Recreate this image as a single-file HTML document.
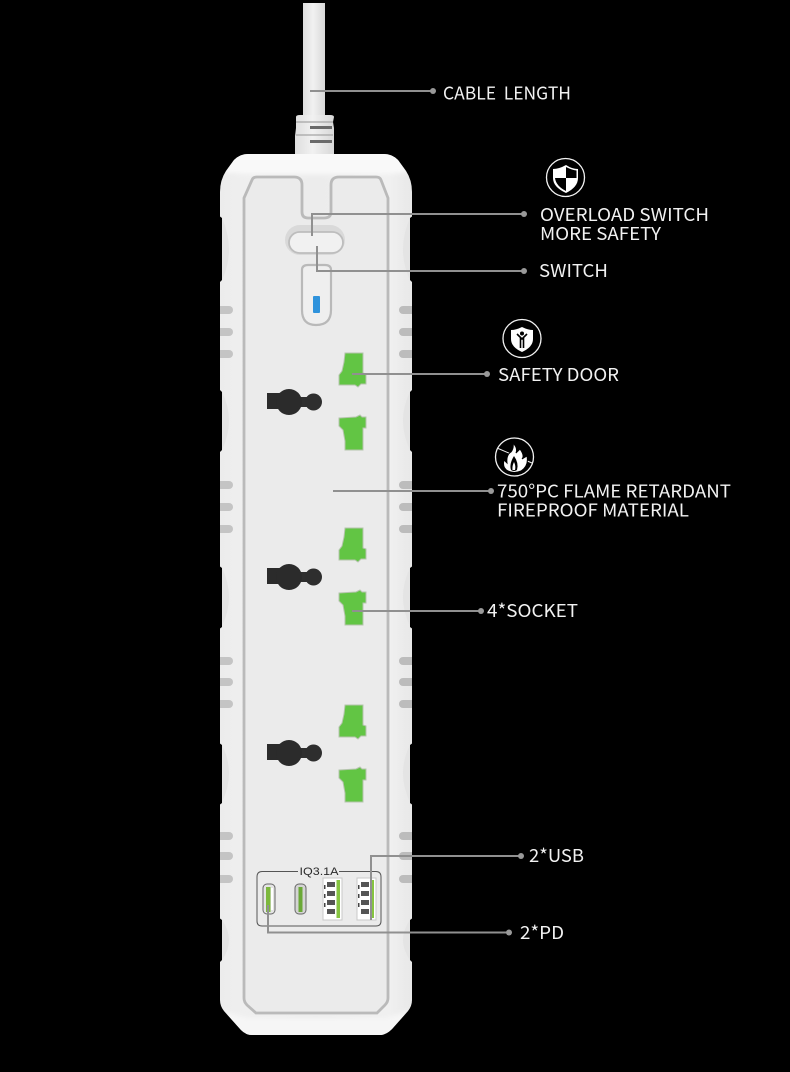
<!DOCTYPE html>
<html><head><meta charset="utf-8"><style>
html,body{margin:0;padding:0;background:#000}
svg{display:block}
text{font-family:"Noto Sans CJK SC","Liberation Sans",sans-serif;fill:#f2f2f2;font-size:18px}
</style></head><body>
<svg width="790" height="1072" viewBox="0 0 790 1072" xmlns="http://www.w3.org/2000/svg">
<defs>
<filter id="b2" x="-10%" y="-30%" width="120%" height="160%"><feGaussianBlur stdDeviation="2.500"/></filter>
<clipPath id="bc"><path d="M248,154 L384,154 Q392,154 398,160 L406,171 Q412,180 412,192 L412,1000 Q412,1006 408,1011 L392,1029 Q386,1035 380,1035 L252,1035 Q246,1035 241,1030 L224,1011 Q220,1006 220,1000 L220,192 Q220,180 226,171 L234,160 Q240,154 248,154Z"/></clipPath>
<linearGradient id="cab" x1="0" x2="1" y1="0" y2="0"><stop offset="0" stop-color="#dedede"/><stop offset=".45" stop-color="#f1f1f1"/><stop offset="1" stop-color="#d8d8d8"/></linearGradient>
<linearGradient id="body" x1="0" x2="1" y1="0" y2="0"><stop offset="0" stop-color="#ececec"/><stop offset=".12" stop-color="#efefef"/><stop offset=".5" stop-color="#ececec"/><stop offset=".88" stop-color="#f0f0f0"/><stop offset="1" stop-color="#e8e8e8"/></linearGradient>
<g id="green"><path d="M345,353 L363,353 L363,373 L366,374 L366,384 L361,384 L358,387 L355,385 L339,385 L339,375 L342,371 L344,362Z M339,418 L356,417 L360,415 L362,417 L366,417 L366,428 L363,428 L363,450 L345,450 L345,441 L343,430 L339,426Z" fill="#62c544" stroke="#b5c4ad" stroke-width="1"/></g>
<g id="pin"><rect x="267" y="393" width="24" height="16" fill="#2b2b2b"/><rect x="296" y="397" width="12" height="10" fill="#2f2f2f"/><circle cx="313.500" cy="402" r="8.500" fill="#2e2e2e"/><circle cx="289" cy="402" r="13" fill="#2b2b2b"/></g>
<g id="nl"><path d="M220,-4 H229 A4,4 0 0 1 229,4 H220Z" fill="#c4c4c4"/></g>
<g id="nr"><path d="M412,-4 H403 A4,4 0 0 0 403,4 H412Z" fill="#bcbcbc"/></g>
</defs>
<rect width="790" height="1072" fill="#000"/>

<!-- cable -->
<rect x="303" y="3" width="22" height="114" fill="url(#cab)"/>
<path d="M296,117 Q296,115 300,115 L330,115 Q334,115 334,117 L333,122 L334,128 L334,154 L295,154 L295,136 L296,128Z" fill="url(#cab)"/>
<path d="M296,122 H333 M296,135 H333" stroke="#a5a5a5" stroke-width="1.200" fill="none"/>
<rect x="310" y="126" width="22" height="3" fill="#6a6a6a"/>
<rect x="310" y="140" width="22" height="3" fill="#6a6a6a"/>

<!-- body -->
<path d="M248,154 L384,154 Q392,154 398,160 L406,171 Q412,180 412,192 L412,1000 Q412,1006 408,1011 L392,1029 Q386,1035 380,1035 L252,1035 Q246,1035 241,1030 L224,1011 Q220,1006 220,1000 L220,192 Q220,180 226,171 L234,160 Q240,154 248,154Z" fill="url(#body)"/>
<g clip-path="url(#bc)">
<path d="M232,150 L400,150 L410,172 L384,174 L250,174 L222,172Z" fill="#f9f9f9" filter="url(#b2)"/>
<path d="M222,1010 L246,1018 L386,1018 L410,1010 L396,1040 L236,1040Z" fill="#f6f6f6" filter="url(#b2)"/>
</g>
<!-- side recesses -->
<g fill="#000">
<path d="M218,215 L222,218 L222,280 L218,284Z M218,388 L222,392 L222,450 L218,454Z M218,565 L222,568 L222,627 L218,630Z M218,742 L222,745 L222,803 L218,806Z M218,917 L222,920 L222,960 L218,964Z"/>
<path d="M414,215 L410,218 L410,280 L414,284Z M414,388 L410,392 L410,450 L414,454Z M414,565 L410,568 L410,627 L414,630Z M414,742 L410,745 L410,803 L414,806Z M414,917 L410,920 L410,960 L414,964Z"/>
</g>
<g fill="#e4e4e4">
<path d="M222,218 Q236,250 222,280Z M222,392 Q236,420 222,450Z M222,568 Q236,597 222,626Z M222,745 Q236,773 222,802Z M222,920 Q236,940 222,960Z"/>
<path d="M410,218 Q396,250 410,280Z M410,392 Q396,420 410,450Z M410,568 Q396,597 410,626Z M410,745 Q396,773 410,802Z M410,920 Q396,940 410,960Z"/>
</g>
<use href="#nl" y="310"/><use href="#nl" y="332"/><use href="#nl" y="354"/>
<use href="#nl" y="485"/><use href="#nl" y="507"/><use href="#nl" y="529"/>
<use href="#nl" y="661"/><use href="#nl" y="682"/><use href="#nl" y="704"/>
<use href="#nl" y="836"/><use href="#nl" y="856"/><use href="#nl" y="879"/>
<use href="#nr" y="310"/><use href="#nr" y="332"/><use href="#nr" y="354"/>
<use href="#nr" y="485"/><use href="#nr" y="507"/><use href="#nr" y="529"/>
<use href="#nr" y="661"/><use href="#nr" y="682"/><use href="#nr" y="704"/>
<use href="#nr" y="836"/><use href="#nr" y="856"/><use href="#nr" y="879"/>

<!-- inner panel -->
<path d="M244,198 L252,180 Q253,177 257,177 L294,177 Q302,177 302,185 L302,212 Q302,218 308,218 L324,218 Q331,218 331,212 L331,185 Q331,177 339,177 L376,177 Q380,177 381,180 L388,198 L388,998 Q388,1002 385,1005 L377,1013 L256,1013 L247,1005 Q244,1002 244,998Z" fill="#ebebeb" stroke="#bababa" stroke-width="2.800"/>

<!-- switch -->
<rect x="285" y="225" width="60" height="30" rx="15" fill="#d9d9d9"/>
<rect x="289" y="232" width="54" height="21" rx="10.500" fill="#f1f1f1" stroke="#bdbdbd" stroke-width="1.800"/>
<path d="M302,270 Q302,265 308,265 L325,265 Q331,265 331,270 L331,310 Q331,325 316,325 Q302,325 302,310Z" fill="#efefef" stroke="#b9b9b9" stroke-width="2.200"/>
<rect x="313" y="296" width="7" height="17" rx="1" fill="#2f93dc"/>

<!-- sockets -->
<use href="#green"/><use href="#green" y="175"/><use href="#green" y="352"/>
<use href="#pin"/><use href="#pin" y="175"/><use href="#pin" y="351"/>

<!-- USB panel -->
<path d="M298,871.500 H262 Q257,871.500 257,877 V921 Q257,926 262,926 H376 Q381,926 381,921 V877 Q381,871.500 376,871.500 H339" fill="none" stroke="#555" stroke-width="1"/>
<text x="299.500" y="875" textLength="39" lengthAdjust="spacingAndGlyphs" style="font-family:'Liberation Sans',sans-serif;font-size:11px;fill:#2a2a2a">IQ3.1A</text>
<g>
<rect x="263" y="884" width="12" height="30" rx="4" fill="#e4e4e4" stroke="#666"/><rect x="266" y="887" width="4.500" height="25" fill="#7cb83c"/><rect x="271" y="888" width="2" height="22" fill="#fff"/>
<rect x="295" y="884" width="11" height="30" rx="4" fill="#d4d4d4" stroke="#666"/><rect x="298.500" y="887" width="4" height="25" fill="#6aa836"/>
<rect x="323" y="878" width="19" height="42" fill="#fff" stroke="#c8c8c8"/><rect x="336.500" y="880" width="3.500" height="38" fill="#86c440"/>
<rect x="357" y="878" width="19" height="42" fill="#fff" stroke="#c8c8c8"/><rect x="370.500" y="880" width="3.500" height="38" fill="#86c440"/>
<g fill="#555"><rect x="327" y="882" width="8" height="5"/><rect x="327" y="891" width="8" height="5"/><rect x="327" y="900" width="8" height="5"/><rect x="327" y="909" width="8" height="5"/><rect x="361" y="882" width="8" height="5"/><rect x="361" y="891" width="8" height="5"/><rect x="361" y="900" width="8" height="5"/><rect x="361" y="909" width="8" height="5"/></g>
<g fill="#444"><rect x="324" y="885" width="1.500" height="4"/><rect x="324" y="894" width="1.500" height="4"/><rect x="324" y="903" width="1.500" height="4"/><rect x="358" y="885" width="1.500" height="4"/><rect x="358" y="894" width="1.500" height="4"/><rect x="358" y="903" width="1.500" height="4"/></g>
</g>

<!-- connectors -->
<g fill="none" stroke="#909090" stroke-width="2">
<path d="M310,91 H433"/>
<path d="M312,236 V214 H524"/>
<path d="M317,246 V271 H524"/>
<path d="M352,374 H487"/>
<path d="M333,491 H491"/>
<path d="M352,611 H481"/>
<path d="M371,920 V856 H521"/>
<path d="M268,905 V932.500 H509"/>
</g>
<g fill="#999">
<circle cx="433" cy="91" r="3"/><circle cx="524" cy="214" r="3"/><circle cx="524" cy="271" r="3"/><circle cx="487" cy="374" r="3"/><circle cx="491" cy="491" r="3"/><circle cx="481" cy="611" r="3"/><circle cx="521" cy="856" r="3"/><circle cx="509" cy="932.500" r="3"/>
</g>

<!-- icons -->
<g fill="none" stroke="#f2f2f2" stroke-width="1.300"><circle cx="565.500" cy="177.500" r="19"/><circle cx="522" cy="338.500" r="19"/><circle cx="514.500" cy="457" r="19"/></g>
<path d="M566,165 Q559,169 553,169 V178 Q553,187 566,193 Q578,187 578,178 V169 Q572,169 566,165Z" fill="#fff"/>
<path d="M566,167 Q572,170 576.500,170.500 V178 H566Z M566,178 H555 Q556,186 566,191Z" fill="#000"/>
<path d="M522,327 Q516,330 511,330 V339 Q511,347 522,352 Q533,347 533,339 V330 Q528,330 522,327Z" fill="#fff"/>
<circle cx="522" cy="333.500" r="2" fill="#000"/><path d="M517,334 L522,339 L527,334 M520.500,348 V338 M523.500,348 V338" stroke="#000" stroke-width="1.600" fill="none"/>
<path d="M497,448 L532,463" stroke="#f2f2f2" stroke-width="1"/>
<path d="M513,443 Q518,448 516,453 L520,449 Q525,456 522,459 L527,456 Q529,466 521,471 Q514,474 508,471 Q502,468 504,460 L507,463 Q506,455 511,452 Q514,448 513,443Z" fill="#fff" stroke="#000" stroke-width="1"/>
<path d="M514,456 Q519,463 517,470 Q514,472 511,470 Q509,464 514,456Z" fill="#000"/>
<path d="M514,462 Q516,466 515,470 H512.500 Q512,466 514,462Z" fill="#fff"/>

<!-- labels -->
<text x="443" y="99.500" textLength="128" lengthAdjust="spacingAndGlyphs">CABLE&#160;&#160;LENGTH</text>
<text x="540" y="221" textLength="169" lengthAdjust="spacingAndGlyphs">OVERLOAD SWITCH</text>
<text x="540" y="240" textLength="121" lengthAdjust="spacingAndGlyphs">MORE SAFETY</text>
<text x="539" y="277" textLength="69" lengthAdjust="spacingAndGlyphs">SWITCH</text>
<text x="498" y="381" textLength="121" lengthAdjust="spacingAndGlyphs">SAFETY DOOR</text>
<text x="497" y="497.500" textLength="234" lengthAdjust="spacingAndGlyphs">750°PC FLAME RETARDANT</text>
<text x="497" y="516.500" textLength="192" lengthAdjust="spacingAndGlyphs">FIREPROOF MATERIAL</text>
<text x="487" y="617" textLength="91" lengthAdjust="spacingAndGlyphs">4*SOCKET</text>
<text x="529" y="862" textLength="55" lengthAdjust="spacingAndGlyphs">2*USB</text>
<text x="520" y="939" textLength="44" lengthAdjust="spacingAndGlyphs">2*PD</text>
</svg>
</body></html>
